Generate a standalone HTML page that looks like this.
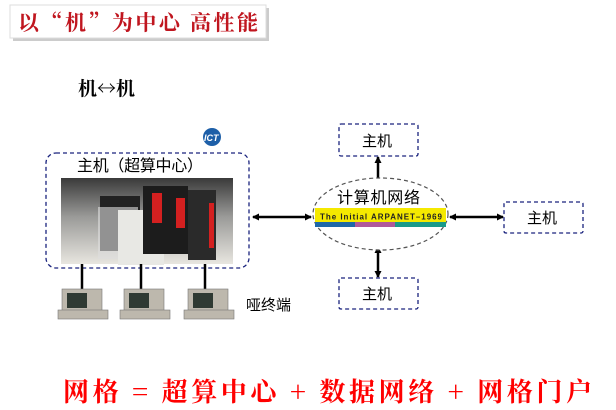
<!DOCTYPE html>
<html><head><meta charset="utf-8"><style>
html,body{margin:0;padding:0;background:#fff;width:616px;height:410px;overflow:hidden}
svg text{font-family:"Liberation Sans","Noto Sans CJK SC",sans-serif}
.serif{font-family:"Liberation Serif","Noto Serif CJK SC",serif}
</style></head><body>
<svg width="616" height="410" viewBox="0 0 616 410" xmlns="http://www.w3.org/2000/svg">
<defs>
<marker id="ah" markerWidth="7" markerHeight="7" refX="6" refY="3.5" orient="auto-start-reverse" markerUnits="userSpaceOnUse"><path d="M0,0 L7,3.5 L0,7 z" fill="#000"/></marker>
<linearGradient id="room" x1="0" y1="0" x2="0" y2="1"><stop offset="0" stop-color="#3a3a3a"/><stop offset="0.45" stop-color="#9a9a98"/><stop offset="1" stop-color="#e8e6e0"/></linearGradient>
</defs>
<rect x="13" y="8" width="256" height="33" fill="#999" opacity="0.5"/>
<rect x="10" y="5" width="256" height="33" fill="#fff" stroke="#ddd"/>
<text x="18" y="30" font-size="21" font-weight="bold" fill="#c0161f" textLength="240" style="font-family:'Noto Serif CJK SC',serif">以“机”为中心  高性能</text>
<text x="78" y="95" font-size="19" font-weight="bold" fill="#000" style="font-family:'Noto Serif CJK SC',serif">机↔机</text>
<circle cx="212" cy="137" r="9" fill="#1d5fa8"/>
<text x="204" y="141" font-size="9" font-weight="bold" font-style="italic" fill="#fff">ICT</text>
<rect x="46" y="153" width="203" height="115" rx="10" fill="none" stroke="#1a237e" stroke-dasharray="4,3" stroke-width="1.3"/>
<text x="77" y="171" font-size="16" fill="#000" textLength="126">主机（超算中心）</text>
<rect x="61" y="178" width="172" height="86" fill="url(#room)"/>
<rect x="100" y="196" width="40" height="55" fill="#222"/>
<rect x="98" y="207" width="40" height="52" fill="#ddd" opacity=".6"/>
<rect x="118" y="210" width="46" height="55" fill="#e8e8e4"/>
<rect x="143" y="186" width="45" height="68" fill="#1c1c1c"/>
<rect x="152" y="193" width="10" height="30" fill="#d42020"/>
<rect x="176" y="198" width="9" height="30" fill="#d42020"/>
<rect x="188" y="190" width="28" height="70" fill="#2a2a2a"/>
<rect x="209" y="203" width="5" height="45" fill="#d42020"/>
<g stroke="#000" stroke-width="2.5">
<line x1="82" y1="264" x2="82" y2="290"/><line x1="141" y1="264" x2="141" y2="290"/><line x1="205" y1="264" x2="205" y2="290"/>
</g>
<g fill="#bdb8ad" stroke="#777" stroke-width="0.6">
<rect x="62" y="289" width="40" height="24"/><rect x="58" y="310" width="50" height="9"/>
<rect x="124" y="289" width="40" height="24"/><rect x="120" y="310" width="50" height="9"/>
<rect x="188" y="289" width="40" height="24"/><rect x="184" y="310" width="50" height="9"/>
</g>
<g fill="#2f3a33"><rect x="67" y="293" width="20" height="15"/><rect x="129" y="293" width="20" height="15"/><rect x="193" y="293" width="20" height="15"/></g>
<text x="246" y="310" font-size="15" fill="#000">哑终端</text>
<g stroke="#000" stroke-width="2.5" fill="none">
<line x1="253" y1="217" x2="311" y2="217" marker-start="url(#ah)" marker-end="url(#ah)"/>
<line x1="450" y1="217" x2="503" y2="217" marker-start="url(#ah)" marker-end="url(#ah)"/>
<line x1="378" y1="157" x2="378" y2="186" marker-start="url(#ah)" marker-end="url(#ah)"/>
<line x1="378" y1="247" x2="378" y2="277" marker-start="url(#ah)" marker-end="url(#ah)"/>
</g>
<ellipse cx="380.5" cy="214" rx="67.5" ry="36" fill="#fff" stroke="#555" stroke-dasharray="4,3" stroke-width="1.2"/>
<rect x="315" y="208" width="131" height="15" fill="#f5e900"/>
<rect x="315" y="222" width="40" height="5" fill="#1f68a8"/><rect x="355" y="222" width="40" height="5" fill="#b05a9a"/><rect x="395" y="222" width="51" height="5" fill="#1a9a8a"/>
<text x="320" y="219.5" font-size="8" font-weight="bold" fill="#222" textLength="122">The Initial ARPANET–1969</text>
<text x="337" y="203" font-size="16" fill="#000" textLength="83">计算机网络</text>
<g fill="#fff" stroke="#1a237e" stroke-dasharray="4,3" stroke-width="1.3">
<rect x="339" y="124" width="79" height="32" rx="2"/>
<rect x="339" y="278" width="79" height="31" rx="2"/>
<rect x="504" y="202" width="79" height="31" rx="2"/>
</g>
<g font-size="15" fill="#000">
<text x="362" y="146">主机</text><text x="362" y="299">主机</text><text x="527" y="223">主机</text>
</g>
<text x="63" y="401" font-size="26" font-weight="bold" fill="#f00" textLength="529" style="font-family:'Noto Serif CJK SC',serif">网格 = 超算中心 + 数据网络 + 网格门户</text>
</svg>
</body></html>
